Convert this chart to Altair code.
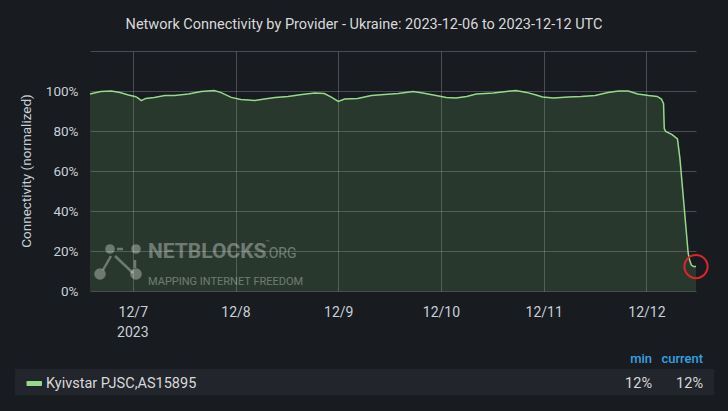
import altair as alt
import pandas as pd

# Normalized connectivity, Kyivstar (AS15895), UTC timestamps
times = [
    "2023-12-06T14:00:00Z", "2023-12-06T16:30:00Z", "2023-12-06T19:00:00Z", "2023-12-06T21:00:00Z",
    "2023-12-06T23:00:00Z", "2023-12-07T00:30:00Z", "2023-12-07T01:00:00Z", "2023-12-07T02:00:00Z",
    "2023-12-07T03:00:00Z", "2023-12-07T05:00:00Z", "2023-12-07T07:30:00Z", "2023-12-07T09:45:00Z",
    "2023-12-07T13:00:00Z", "2023-12-07T16:00:00Z", "2023-12-07T19:00:00Z", "2023-12-07T20:30:00Z",
    "2023-12-07T23:00:00Z", "2023-12-08T01:15:00Z", "2023-12-08T03:00:00Z", "2023-12-08T04:30:00Z",
    "2023-12-08T06:45:00Z", "2023-12-08T09:15:00Z", "2023-12-08T12:15:00Z", "2023-12-08T15:30:00Z",
    "2023-12-08T18:30:00Z", "2023-12-08T20:45:00Z", "2023-12-08T22:30:00Z", "2023-12-09T00:00:00Z",
    "2023-12-09T01:30:00Z", "2023-12-09T04:30:00Z", "2023-12-09T07:45:00Z", "2023-12-09T10:45:00Z",
    "2023-12-09T14:00:00Z", "2023-12-09T17:30:00Z", "2023-12-09T19:45:00Z", "2023-12-09T22:15:00Z",
    "2023-12-10T01:15:00Z", "2023-12-10T03:30:00Z", "2023-12-10T06:00:00Z", "2023-12-10T08:15:00Z",
    "2023-12-10T12:15:00Z", "2023-12-10T15:15:00Z", "2023-12-10T17:30:00Z", "2023-12-10T20:00:00Z",
    "2023-12-10T22:15:00Z", "2023-12-10T23:45:00Z", "2023-12-11T02:15:00Z", "2023-12-11T05:45:00Z",
    "2023-12-11T08:45:00Z", "2023-12-11T12:00:00Z", "2023-12-11T15:00:00Z", "2023-12-11T17:30:00Z",
    "2023-12-11T19:45:00Z", "2023-12-11T22:00:00Z", "2023-12-12T00:30:00Z", "2023-12-12T02:30:00Z",
    "2023-12-12T03:30:00Z", "2023-12-12T04:00:00Z", "2023-12-12T04:10:00Z", "2023-12-12T04:30:00Z",
    "2023-12-12T06:00:00Z", "2023-12-12T07:15:00Z", "2023-12-12T07:50:00Z", "2023-12-12T09:45:00Z",
    "2023-12-12T10:05:00Z", "2023-12-12T10:30:00Z", "2023-12-12T11:00:00Z", "2023-12-12T11:35:00Z",
]
connectivity = [
    0.985, 0.998, 1.000, 0.992,
    0.980, 0.973, 0.968, 0.952,
    0.963, 0.968, 0.977, 0.977,
    0.985, 0.997, 1.002, 0.993,
    0.968, 0.957, 0.955, 0.952,
    0.960, 0.968, 0.973, 0.983,
    0.990, 0.987, 0.968, 0.948,
    0.960, 0.963, 0.977, 0.983,
    0.988, 0.997, 0.990, 0.980,
    0.968, 0.965, 0.973, 0.985,
    0.990, 0.998, 1.003, 0.993,
    0.980, 0.970, 0.965, 0.970,
    0.972, 0.977, 0.993, 1.000,
    1.000, 0.985, 0.977, 0.973,
    0.960, 0.937, 0.812, 0.798,
    0.782, 0.760, 0.662, 0.190,
    0.155, 0.130, 0.122, 0.122,
]

day_ticks = [7, 8, 9, 10, 11, 12]
y_ticks = [0, 0.2, 0.4, 0.6, 0.8, 1.0, 1.2]

title_text = "Network Connectivity by Provider - Ukraine: 2023-12-06 to 2023-12-12 UTC"
y_title = "Connectivity (normalized)"
series_name = "Kyivstar PJSC,AS15895"
year_label = "2023"

df = pd.DataFrame({"time": times, "connectivity": connectivity})
min_label = f"{round(min(connectivity) * 100)}%"
current_label = f"{round(connectivity[-1] * 100)}%"

W, H = 606, 240
BG = "#181b1f"
LINE = "#96d98d"
FILL = "#73bf69"
TEXT = "#d8d9da"
AXIS_TEXT = "#c7d0d9"
GRID = "#ccccdc"
FONT = "Roboto"

x_scale = alt.Scale(
    type="utc",
    domain=[
        alt.DateTime(year=2023, month=12, date=6, hours=14, utc=True),
        alt.DateTime(year=2023, month=12, date=12, hours=11, minutes=35, utc=True),
    ],
)
y_scale = alt.Scale(domain=[0, 1.2], nice=False)

x_axis = alt.Axis(
    values=[alt.DateTime(year=2023, month=12, date=d, utc=True) for d in day_ticks],
    labelExpr="utcFormat(datum.value, '%-m/%-d')",
    title=None,
    labelPadding=14,
    labelFontSize=14,
    labelOverlap=False,
    grid=True, gridColor=GRID, gridOpacity=0.28,
)
y_axis = alt.Axis(
    values=y_ticks,
    labelExpr="datum.value > 1.01 ? '' : format(datum.value, '.0%')",
    title=None,
    labelPadding=12,
    labelFontSize=13.5,
    labelOverlap=False,
    grid=True, gridColor=GRID, gridOpacity=0.28,
)
x_enc = alt.X("time:T", scale=x_scale, axis=x_axis)
y_enc = alt.Y("connectivity:Q", scale=y_scale, axis=y_axis)

base = alt.Chart(df)
area = base.mark_area(color=FILL, opacity=0.18).encode(x=x_enc, y=y_enc)
line = base.mark_line(color=LINE, strokeWidth=1.5).encode(x=x_enc, y=y_enc)

# red ring around the latest reading
latest = alt.Chart(df.tail(1)).mark_point(
    shape="circle", size=540, filled=False, stroke="#e0242b", strokeWidth=2, opacity=1
).encode(x=x_enc, y=y_enc)

# year under the first date tick
year_df = pd.DataFrame({"time": ["2023-12-07T00:00:00Z"], "label": [year_label]})
year = alt.Chart(year_df).mark_text(
    font=FONT, fontSize=14, color=AXIS_TEXT, baseline="middle"
).encode(x=x_enc, y=alt.value(H + 42), text="label:N")


def label(text, x, y, size=13, color=TEXT, align="left", baseline="middle", weight="normal", angle=0, opacity=1.0):
    return alt.Chart(pd.DataFrame({"t": [text]})).mark_text(
        font=FONT, fontSize=size, color=color, align=align, baseline=baseline,
        fontWeight=weight, angle=angle, opacity=opacity,
    ).encode(x=alt.value(x), y=alt.value(y), text="t:N")


title = label(title_text, 274, -26, size=14.5, align="center")
ytitle = label(y_title, -63, H / 2, size=13.5, color=AXIS_TEXT, align="center", angle=270)

# watermark: wordmark plus a small node-graph emblem
wm_color = "#ffffff"
wm_alpha = 0.33
wm = [
    label("NETBLOCKS", 58, 207, size=21, color=wm_color, baseline="alphabetic", weight="bold", opacity=wm_alpha),
    label("™", 176, 193, size=6, color=wm_color, baseline="alphabetic", opacity=wm_alpha),
    label(".ORG", 175, 207, size=14, color=wm_color, baseline="alphabetic", opacity=wm_alpha),
    label("MAPPING INTERNET FREEDOM", 58, 234, size=11, color=wm_color, baseline="alphabetic", opacity=wm_alpha),
]
emblem_nodes = [(20, 198, 4.8), (46, 198, 4.8), (10, 223, 5.8), (46, 223, 5.8)]
emblem_links = [(21, 205, 13, 219), (25, 205, 43, 222), (27, 198, 33, 198), (45, 209, 45, 217)]
logo = []
for cx, cy, r in emblem_nodes:
    logo.append(
        alt.Chart(pd.DataFrame({"a": [0]})).mark_arc(color=wm_color, opacity=wm_alpha, radius=r).encode(
            x=alt.value(cx), y=alt.value(cy), theta=alt.value(6.2832)
        )
    )
for x1, y1, x2, y2 in emblem_links:
    logo.append(
        alt.Chart(pd.DataFrame({"a": [0]})).mark_rule(color=wm_color, opacity=wm_alpha, strokeWidth=2.5).encode(
            x=alt.value(x1), y=alt.value(y1), x2=alt.value(x2), y2=alt.value(y2)
        )
    )

# legend table below the plot
legend_row = alt.Chart(pd.DataFrame({"a": [0]})).mark_rect(color="#22252b").encode(
    x=alt.value(-75), x2=alt.value(624), y=alt.value(318), y2=alt.value(344)
)
swatch = alt.Chart(pd.DataFrame({"a": [0]})).mark_rect(color=LINE, cornerRadius=1).encode(
    x=alt.value(-63.5), x2=alt.value(-48), y=alt.value(330), y2=alt.value(335)
)
legend = [
    legend_row,
    swatch,
    label(series_name, -44, 332.5, size=14.5),
    label("min", 562, 308, size=13, color="#33a2e5", align="right", weight=500),
    label("current", 613, 308, size=13, color="#33a2e5", align="right", weight=500),
    label(min_label, 562, 332.5, size=14.5, align="right"),
    label(current_label, 613, 332.5, size=14.5, align="right"),
]

chart = alt.layer(
    area, line, latest, year, title, ytitle, *logo, *wm, *legend
).properties(
    width=W, height=H, background=BG,
    padding={"left": 90, "right": 32, "top": 51, "bottom": 120},
    autosize=alt.AutoSizeParams(type="none"),
).configure_view(
    stroke=None
).configure_axis(
    grid=True, gridColor=GRID, gridOpacity=0.28, gridWidth=1, zindex=1,
    domain=False, ticks=False, labelOverlap=False,
    labelFont=FONT, labelFontSize=13, labelColor=AXIS_TEXT,
)

chart.save("out.html", embed_options={"renderer": "svg", "actions": False})
